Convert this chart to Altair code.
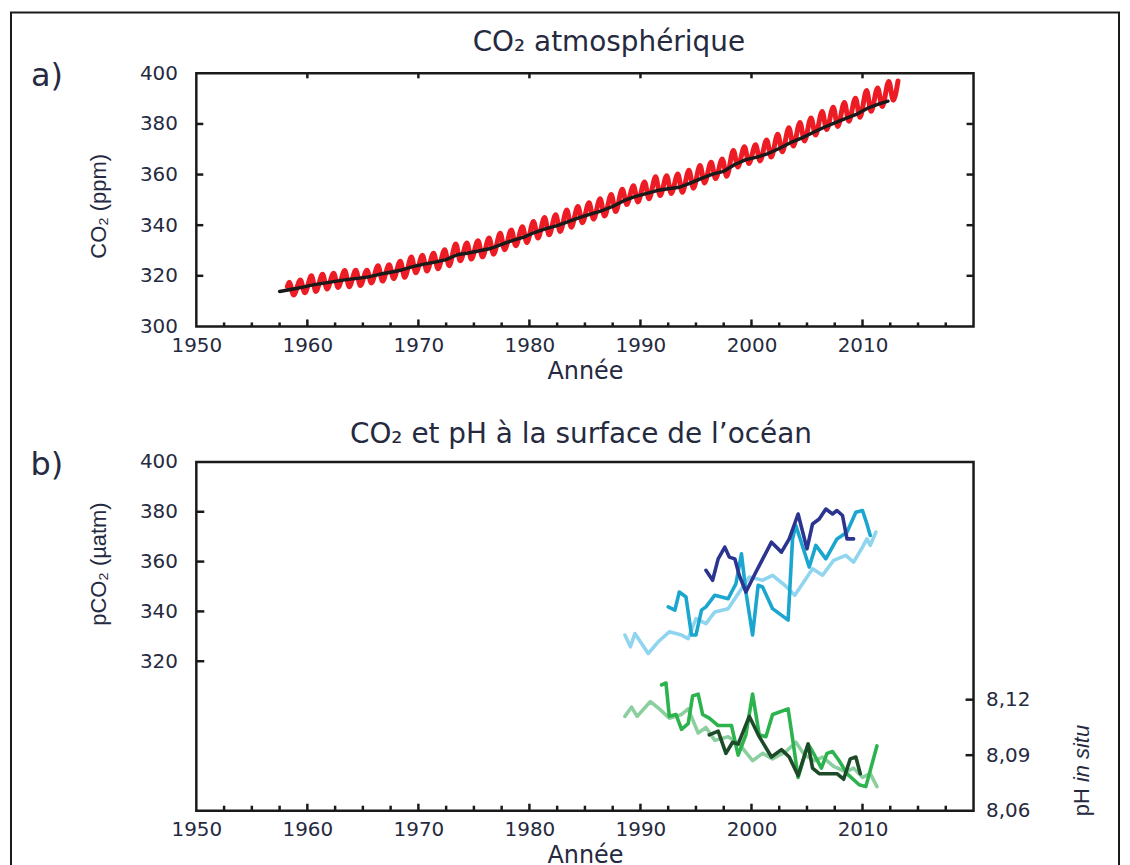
import altair as alt
import pandas as pd

FONT = "DejaVu Sans"
FONT_R = "Liberation Sans"
TXT = "#262a40"
INK = "#1a1a1a"

# ---------------- panel a : atmospheric CO2 ----------------
red_start_year, red_start_ppm = 1958.2, 315.7
red_years = list(range(1958, 2013))
red_may = [317.5, 318.3, 320.0, 320.6, 321.0, 322.1, 322.2, 322.2, 324.0, 324.4,
           325.8, 327.4, 328.1, 328.9, 330.3, 332.6, 333.0, 333.9, 334.9, 336.8,
           338.1, 339.4, 341.5, 343.0, 344.1, 346.0, 347.4, 348.9, 350.4, 352.1,
           354.2, 355.6, 357.1, 359.1, 359.5, 360.2, 361.7, 363.6, 364.9, 366.2,
           369.5, 371.0, 371.8, 373.7, 375.9, 378.5, 380.6, 382.4, 384.9, 386.6,
           388.5, 390.2, 393.2, 394.2, 396.8]
red_oct = [312.4, 313.3, 313.8, 314.8, 315.4, 315.7, 316.2, 317.2, 317.9, 318.9,
           319.4, 321.2, 321.9, 322.8, 324.0, 325.9, 326.6, 327.5, 328.5, 330.3,
           331.9, 333.1, 334.9, 336.2, 337.5, 339.2, 341.0, 342.4, 343.6, 345.4,
           348.2, 349.2, 350.4, 351.7, 352.5, 353.0, 354.6, 356.7, 358.4, 359.3,
           363.0, 364.4, 365.4, 366.9, 369.0, 371.3, 373.3, 375.6, 377.8, 379.0,
           381.1, 382.6, 385.0, 386.9, 389.4]
red_end_year, red_end_ppm = 2013.2, 397.0

black_years = [1957.5, 1958.5, 1959.5, 1960.5, 1961.5, 1962.5, 1963.5, 1964.5, 1965.5, 1966.5,
               1967.5, 1968.5, 1969.5, 1970.5, 1971.5, 1972.5, 1973.5, 1974.5, 1975.5, 1976.5,
               1977.5, 1978.5, 1979.5, 1980.5, 1981.5, 1982.5, 1983.5, 1984.5, 1985.5, 1986.5,
               1987.5, 1988.5, 1989.5, 1990.5, 1991.5, 1992.5, 1993.5, 1994.5, 1995.5, 1996.5,
               1997.5, 1998.5, 1999.5, 2000.5, 2001.5, 2002.5, 2003.5, 2004.5, 2005.5, 2006.5,
               2007.5, 2008.5, 2009.5, 2010.5, 2011.5, 2012.3]
black_ppm = [313.8, 314.6, 315.4, 316.4, 317.1, 317.8, 318.5, 319.0, 319.6, 320.6,
             321.4, 322.3, 323.6, 324.6, 325.4, 326.4, 328.3, 329.0, 329.9, 330.8,
             332.4, 334.0, 335.3, 337.2, 338.6, 339.8, 341.4, 343.0, 344.4, 345.7,
             347.4, 349.7, 351.3, 352.5, 353.7, 354.4, 355.0, 356.6, 358.5, 360.2,
             361.3, 364.0, 365.9, 366.9, 368.3, 370.3, 372.6, 374.4, 376.5, 378.6,
             380.4, 382.2, 383.9, 386.3, 387.9, 389.0]

# ---------------- panel b : ocean pCO2 and pH ----------------
lb_years = [1988.6, 1989.1, 1989.5, 1990.7, 1991.6, 1992.6, 1993.7, 1994.3, 1995.0, 1995.9,
            1996.7, 1997.9, 1998.9, 1999.8, 2001.0, 2001.9, 2003.0, 2003.9, 2004.6, 2005.5,
            2006.4, 2007.4, 2008.5, 2009.2, 2010.0, 2010.4, 2010.7, 2011.2]
lb_pco2 = [330.5, 325.8, 331.1, 323.1, 327.8, 331.8, 330.5, 329.1, 337.1, 335.1,
           339.8, 341.1, 347.8, 353.8, 352.5, 354.5, 350.5, 346.5, 351.1, 357.1,
           354.5, 360.5, 362.5, 359.8, 365.8, 369.1, 366.5, 371.8]

cy_years = [1992.5, 1993.1, 1993.5, 1994.1, 1994.6, 1995.0, 1995.5, 1995.9, 1996.7, 1997.9,
            1998.6, 1999.1, 1999.5, 2000.1, 2000.6, 2001.0, 2001.9, 2003.3, 2003.7, 2004.0,
            2005.2, 2005.8, 2006.7, 2007.7, 2008.6, 2009.4, 2010.0, 2010.4, 2010.7]
cy_pco2 = [341.8, 340.5, 347.8, 345.8, 330.5, 330.5, 340.5, 341.8, 346.5, 345.1,
           351.1, 363.1, 347.8, 330.5, 350.5, 349.8, 341.1, 336.5, 369.1, 374.5,
           357.8, 366.5, 361.1, 369.1, 371.8, 379.8, 380.5, 375.1, 370.5]

nv_years = [1995.9, 1996.5, 1997.0, 1997.6, 1998.0, 1998.5, 1998.9, 1999.5, 2000.4, 2001.8,
            2002.7, 2003.4, 2004.2, 2005.0, 2005.5, 2006.1, 2006.7, 2007.3, 2007.7, 2008.2,
            2008.6, 2009.2]
nv_pco2 = [356.5, 352.5, 361.1, 365.8, 361.8, 361.1, 354.5, 347.8, 355.8, 367.8,
           363.8, 369.1, 379.1, 365.1, 375.1, 377.1, 381.1, 379.1, 380.5, 378.5,
           369.1, 369.1]

lg_years = [1988.6, 1989.2, 1989.7, 1990.9, 1991.7, 1992.6, 1993.7, 1994.3, 1995.2, 1995.9,
            1996.7, 1997.9, 1998.9, 1999.7, 2000.1, 2001.0, 2001.9, 2003.1, 2004.0, 2004.8,
            2005.7, 2006.4, 2007.4, 2008.5, 2009.2, 2010.0, 2010.7, 2011.3]
lg_ph = [8.111, 8.116, 8.111, 8.119, 8.115, 8.110, 8.112, 8.115, 8.102, 8.105,
         8.098, 8.100, 8.096, 8.090, 8.087, 8.091, 8.088, 8.092, 8.097, 8.090,
         8.087, 8.089, 8.084, 8.081, 8.083, 8.078, 8.080, 8.073]

mg_years = [1991.9, 1992.3, 1992.6, 1993.2, 1993.7, 1994.3, 1994.7, 1995.2, 1995.6, 1996.2,
            1997.0, 1998.2, 1998.8, 1999.5, 2000.1, 2000.7, 2001.3, 2001.9, 2003.3, 2003.7,
            2004.2, 2005.1, 2005.5, 2006.3, 2006.8, 2007.3, 2007.9, 2008.6, 2009.7, 2010.3,
            2011.3]
mg_ph = [8.128, 8.129, 8.111, 8.112, 8.104, 8.107, 8.122, 8.123, 8.112, 8.110,
         8.106, 8.106, 8.090, 8.101, 8.123, 8.101, 8.100, 8.112, 8.115, 8.099,
         8.078, 8.096, 8.092, 8.083, 8.091, 8.092, 8.087, 8.080, 8.074, 8.073,
         8.095]

dg_years = [1996.2, 1997.0, 1997.7, 1998.3, 1998.8, 1999.8, 2000.7, 2001.8, 2002.7, 2003.4,
            2004.2, 2005.1, 2005.5, 2006.1, 2007.0, 2007.7, 2008.3, 2008.9, 2009.4, 2009.8]
dg_ph = [8.101, 8.103, 8.091, 8.097, 8.096, 8.111, 8.100, 8.089, 8.093, 8.089,
         8.079, 8.096, 8.083, 8.080, 8.080, 8.080, 8.077, 8.088, 8.089, 8.080]

# ---------------- ticks and labels ----------------
x_label_values = [1950, 1960, 1970, 1980, 1990, 2000, 2010]
x_major_ticks = [1960, 1970, 1980, 1990, 2000, 2010]
x_minor_ticks = [1952.5, 1955, 1957.5, 1962.5, 1965, 1967.5, 1972.5, 1975, 1977.5,
                 1982.5, 1985, 1987.5, 1992.5, 1995, 1997.5, 2002.5, 2005, 2007.5,
                 2012.5, 2015, 2017.5]
ya_labels = [300, 320, 340, 360, 380, 400]
ya_ticks = [320, 340, 360, 380]
yb_labels = [320, 340, 360, 380, 400]
yb_ticks = [320, 340, 360, 380]
ph_labels = [8.06, 8.09, 8.12]
ph_ticks = [8.09, 8.12]

title_a = "CO₂ atmosphérique"
title_b = "CO₂ et pH à la surface de l’océan"

W, H1, H2 = 780, 254, 350
XS = alt.Scale(domain=[1950, 2020], nice=False, zero=False)
YA = alt.Scale(domain=[300, 400], nice=False, zero=False)
YB = alt.Scale(domain=[260, 400], nice=False, zero=False)
YP = alt.Scale(domain=[8.06, 8.2485], nice=False, zero=False)

# tables built from the arrays
red_t = [red_start_year]
red_v = [red_start_ppm]
for yr, mx, mn in zip(red_years, red_may, red_oct):
    red_t += [yr + 0.37, yr + 0.77]
    red_v += [mx, mn]
red_t.append(red_end_year)
red_v.append(red_end_ppm)
df_red = pd.DataFrame({"t": red_t, "v": red_v})
df_black = pd.DataFrame({"t": black_years, "v": black_ppm})


def xaxis():
    return alt.Axis(values=x_label_values, format="d", ticks=False, domain=False, grid=False,
                    labelFont=FONT, labelFontSize=20, labelColor=TXT, labelPadding=9,
                    labelFlush=False, labelOverlap=False,
                    title="Année", titleFont=FONT, titleFontSize=24,
                    titleFontWeight="normal", titleColor=TXT, titlePadding=4)


def yaxis(values, title, title_y):
    return alt.Axis(values=values, format="d", ticks=False, domain=False, grid=False,
                    labelFont=FONT, labelFontSize=20, labelColor=TXT, labelPadding=19,
                    labelFlush=False, labelOverlap=False,
                    title=title, titleFont=FONT_R, titleFontSize=22, titleFontWeight="normal",
                    titleColor=TXT, titleAngle=270, titleX=-98, titleY=title_y,
                    titleAlign="center", titleBaseline="middle")


def phaxis():
    return alt.Axis(orient="right", values=ph_labels, ticks=False, domain=False, grid=False,
                    labelFont=FONT, labelFontSize=20, labelColor=TXT, labelPadding=12,
                    labelFlush=False, labelOverlap=False,
                    labelExpr="replace(format(datum.value, '.2f'), '.', ',')", title="")


def line(df, color, width, yscale, yax, interp="linear"):
    return alt.Chart(df).mark_line(color=color, strokeWidth=width, strokeJoin="round",
                                   strokeCap="round", interpolate=interp).encode(
        x=alt.X("t:Q", scale=XS, axis=xaxis()),
        y=alt.Y("v:Q", scale=yscale, axis=yax),
    )


def xticks(vals, y0, y1):
    return alt.Chart(pd.DataFrame({"t": vals})).mark_rule(color=INK, strokeWidth=2.5).encode(
        x=alt.X("t:Q", scale=XS, axis=xaxis()), y=alt.value(y0), y2=alt.value(y1))


def yticks(vals, scale, yax, x0, x1):
    return alt.Chart(pd.DataFrame({"v": vals})).mark_rule(color=INK, strokeWidth=2.5).encode(
        y=alt.Y("v:Q", scale=scale, axis=yax), x=alt.value(x0), x2=alt.value(x1))


def label(text, x, y, size, font=FONT, angle=0, align="center", style="normal"):
    return alt.Chart(pd.DataFrame({"s": [text]})).mark_text(
        font=font, fontSize=size, color=TXT, align=align, baseline="middle",
        angle=angle, fontStyle=style).encode(
        text="s:N", x=alt.value(x), y=alt.value(y))


# ---------- panel a ----------
ax_a = yaxis(ya_labels, "CO₂ (ppm)", 133)

frame = alt.Chart(pd.DataFrame({"k": [0]})).mark_rect(
    fillOpacity=0, stroke=INK, strokeWidth=2).encode(
    x=alt.value(-186), x2=alt.value(926), y=alt.value(-61), y2=alt.value(805))

panel_a = alt.layer(
    frame,
    line(df_red, "#ed1c24", 5, YA, ax_a, "monotone"),
    line(df_black, INK, 3.4, YA, ax_a),
    xticks(x_major_ticks, H1, H1 - 7),
    xticks(x_minor_ticks, H1, H1 - 4),
    xticks(x_major_ticks, 0, 5),
    yticks(ya_ticks, YA, ax_a, 0, 7),
    yticks(ya_ticks, YA, ax_a, W, W - 7),
    label("a)", -150, 3, 32),
    label(title_a, 414, -30, 28),
).properties(width=W, height=H1)

# ---------- panel b ----------
df_lb = pd.DataFrame({"t": lb_years, "v": lb_pco2})
df_cy = pd.DataFrame({"t": cy_years, "v": cy_pco2})
df_nv = pd.DataFrame({"t": nv_years, "v": nv_pco2})
df_lg = pd.DataFrame({"t": lg_years, "v": lg_ph})
df_mg = pd.DataFrame({"t": mg_years, "v": mg_ph})
df_dg = pd.DataFrame({"t": dg_years, "v": dg_ph})

ax_b = yaxis(yb_labels, "pCO₂ (µatm)", 102)
ax_p = phaxis()

left_group = alt.layer(
    line(df_lb, "#8fd5ef", 3.6, YB, ax_b),
    line(df_cy, "#1ba6cf", 3.6, YB, ax_b),
    line(df_nv, "#2b3590", 3.6, YB, ax_b),
    yticks(yb_ticks, YB, ax_b, 0, 8),
    xticks(x_major_ticks, H2, H2 - 7),
    xticks(x_minor_ticks, H2, H2 - 5),
    label("b)", -150, 3.5, 32),
    label(title_b, 386, -27.5, 28),
)

right_group = alt.layer(
    line(df_lg, "#8ccf9f", 3.6, YP, ax_p),
    line(df_mg, "#2db34e", 3.6, YP, ax_p),
    line(df_dg, "#1d4a28", 3.6, YP, ax_p),
    yticks(ph_ticks, YP, ax_p, W, W - 8),
    label("pH", 889, 355.5, 22, font=FONT_R, angle=270, align="left"),
    label("in situ", 889, 321.3, 22, font=FONT_R, angle=270, align="left", style="italic"),
)

panel_b = alt.layer(left_group, right_group).resolve_scale(
    y="independent").properties(width=W, height=H2)

chart = alt.vconcat(panel_a, panel_b, spacing=136, bounds="flush").properties(
    padding=0, background="white"
).configure_view(stroke=INK, strokeWidth=2.5)

chart.save("out.html", embed_options={"renderer": "svg", "actions": False})
